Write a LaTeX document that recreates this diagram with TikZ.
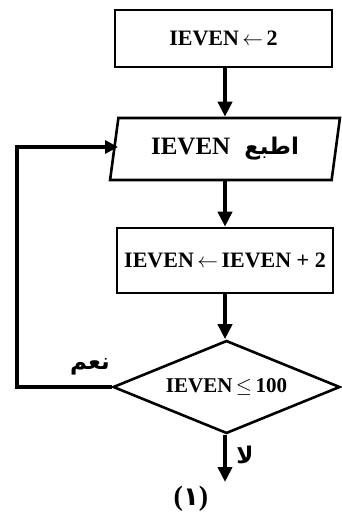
\documentclass[tikz,border=0pt]{standalone}
\usepackage{fontspec}
\setmainfont{Liberation Serif}
\newfontfamily\arabicfont[Script=Arabic]{DejaVu Sans}
\TeXXeTstate=1
\usetikzlibrary{shapes.geometric,arrows.meta}
\begin{document}
\begin{tikzpicture}[x=1pt,y=-1pt,
  shapeline/.style={draw=black,line width=2.6pt},
  procbox/.style={shapeline,rectangle,inner sep=0pt,font=\fontsize{22}{24}\selectfont\bfseries},
  iobox/.style={shapeline,trapezium,trapezium left angle=76,trapezium right angle=104,
     trapezium stretches=true,inner sep=0pt,font=\fontsize{25}{28}\selectfont\bfseries},
  decbox/.style={shapeline,diamond,aspect=2.45,inner sep=0pt,font=\fontsize{21}{24}\selectfont\bfseries},
  flow/.style={line width=4pt,-{Triangle[length=15pt,width=14pt]}},
  loopline/.style={line width=3.2pt,-{Triangle[length=13pt,width=13pt]}},
  lbl/.style={inner sep=0pt,font=\arabicfont\bfseries\fontsize{23}{26}\selectfont}
]
\useasboundingbox (0,0) rectangle (341,516);
\node[procbox,minimum width=217pt,minimum height=57pt] (b1) at (223.5,38.5) {IEVEN$\,\leftarrow\,$2};
\node[iobox,minimum width=230pt,minimum height=62pt] (io) at (225,149) {IEVEN\hspace{14pt}{\arabicfont\bfseries\fontsize{23}{24}\selectfont\beginR اطبع\endR}};
\node[procbox,minimum width=216pt,minimum height=65pt] (b3) at (225,260.5) {IEVEN$\,\leftarrow\,$IEVEN + 2};
\node[decbox,minimum width=227pt,minimum height=93pt] (d) at (226.5,387) {IEVEN$\,\leq\,$100};
\coordinate (corner1) at (17,387);
\coordinate (corner2) at (17,147);
\coordinate (iol) at (118,147);
\coordinate (endp) at (225,482);
\draw[flow] (b1.south -| 225,0) -- (io.north -| 225,0);
\draw[flow] (io.south -| 225,0) -- (b3.north -| 225,0);
\draw[flow] (b3.south -| 225,0) -- (d.north -| 225,0);
\draw[flow] (d.south -| 225,0) -- (endp);
\draw[loopline,line join=miter] (d.west) -- (corner1) -- (corner2) -- (iol);
\node[lbl] (yes) at (90,367) {\beginR نعم\endR};
\node[lbl] (no) at (245,455) {\beginR لا\endR};
\node[inner sep=0pt,font=\fontsize{28}{30}\selectfont\bfseries] (num) at (191,499) {({\arabicfont\fontsize{26}{30}\selectfont ١})};
\end{tikzpicture}
\end{document}
